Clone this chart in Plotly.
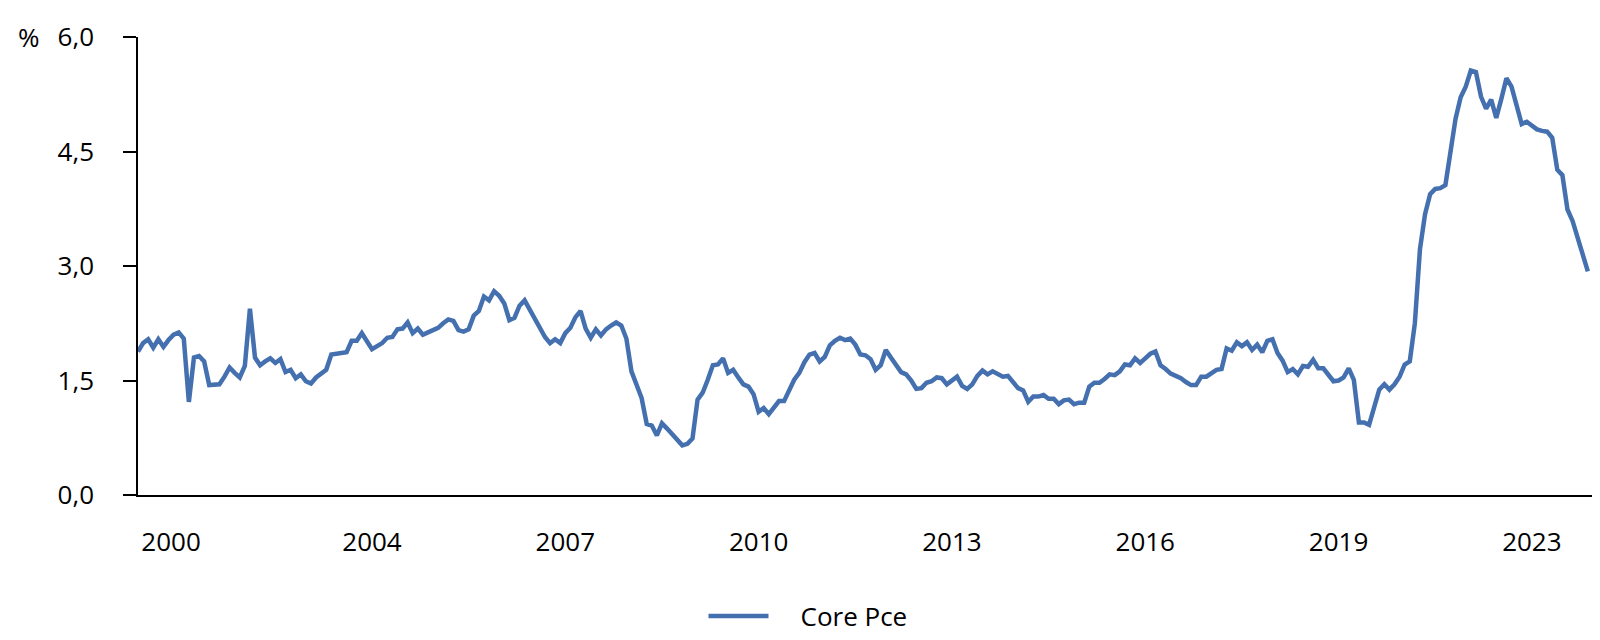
import plotly.graph_objects as go

# Monthly Core PCE (% y/y)
core_pce = [
    1.88, 1.99, 2.04, 1.93, 2.04, 1.94, 2.03, 2.10, 2.13, 2.05,
    1.22, 1.80, 1.82, 1.75, 1.44, 1.44, 1.45, 1.55, 1.67, 1.60,
    1.54, 1.69, 2.44, 1.80, 1.70, 1.75, 1.79, 1.73, 1.78, 1.61,
    1.64, 1.53, 1.58, 1.49, 1.46, 1.54, 1.59, 1.64, 1.84, 1.85,
    1.86, 1.87, 2.02, 2.02, 2.12, 2.00, 1.91, 1.95, 1.99, 2.06,
    2.07, 2.17, 2.18, 2.26, 2.12, 2.18, 2.10, 2.13, 2.16, 2.19,
    2.25, 2.30, 2.28, 2.16, 2.14, 2.17, 2.35, 2.41, 2.60, 2.55,
    2.67, 2.61, 2.51, 2.29, 2.32, 2.48, 2.55, 2.43, 2.31, 2.16,
    2.07, 1.99, 2.04, 1.99, 2.12, 2.19, 2.33, 2.41, 2.18, 2.06,
    2.17, 2.09, 2.17, 2.22, 2.26, 2.22, 2.05, 1.62, 1.43, 1.27,
    0.93, 0.91, 0.78, 0.94, 0.87, 0.80, 0.72, 0.65, 0.67, 0.74,
    1.25, 1.34, 1.51, 1.70, 1.71, 1.79, 1.60, 1.64, 1.54, 1.45,
    1.42, 1.32, 1.09, 1.14, 1.06, 1.15, 1.23, 1.23, 1.38, 1.51,
    1.60, 1.74, 1.84, 1.86, 1.75, 1.81, 1.96, 2.02, 2.06, 2.03,
    2.05, 1.97, 1.84, 1.83, 1.78, 1.64, 1.70, 1.90, 1.80, 1.71,
    1.61, 1.58, 1.50, 1.39, 1.40, 1.47, 1.49, 1.54, 1.53, 1.45,
    1.51, 1.55, 1.43, 1.39, 1.45, 1.56, 1.63, 1.58, 1.62, 1.59,
    1.55, 1.56, 1.47, 1.40, 1.37, 1.22, 1.29, 1.29, 1.31, 1.26,
    1.26, 1.19, 1.24, 1.25, 1.19, 1.21, 1.21, 1.42, 1.47, 1.47,
    1.52, 1.58, 1.57, 1.62, 1.71, 1.70, 1.79, 1.73, 1.79, 1.85,
    1.88, 1.70, 1.65, 1.59, 1.56, 1.53, 1.48, 1.44, 1.44, 1.55,
    1.55, 1.59, 1.64, 1.65, 1.92, 1.89, 2.00, 1.95, 2.00, 1.90,
    1.97, 1.87, 2.02, 2.04, 1.86, 1.76, 1.61, 1.65, 1.58, 1.69,
    1.68, 1.77, 1.66, 1.66, 1.57, 1.49, 1.50, 1.54, 1.66, 1.51,
    0.95, 0.95, 0.92, 1.16, 1.38, 1.45, 1.38, 1.45, 1.55, 1.71,
    1.75, 2.25, 3.22, 3.68, 3.94, 4.01, 4.02, 4.06, 4.50, 4.93,
    5.21, 5.35, 5.56, 5.54, 5.22, 5.06, 5.18, 4.94, 5.19, 5.46,
    5.35, 5.10, 4.86, 4.89, 4.84, 4.79, 4.77, 4.76, 4.68, 4.26,
    4.19, 3.74, 3.59, 3.37, 3.15, 2.93,
]
month_index = list(range(len(core_pce)))

x_tick_pos = [6.5, 46, 84, 122, 160, 198, 236, 274]
x_tick_labels = ["2000", "2004", "2007", "2010", "2013", "2016", "2019", "2023"]

y_tick_vals = [0, 1.5, 3.0, 4.5, 6.0]
y_tick_labels = ["0,0", "1,5", "3,0", "4,5", "6,0"]

series_name = "Core Pce"
line_color = "#4470AF"
font_family = "Open Sans, Noto Sans, sans-serif"
FS = 26

fig = go.Figure()
fig.add_trace(go.Scatter(
    x=month_index, y=core_pce, mode="lines",
    name="\u00a0\u00a0\u00a0\u00a0" + series_name,
    line=dict(color=line_color, width=4.5),
    showlegend=True,
))

fig.update_layout(
    width=1600, height=640,
    margin=dict(l=130, r=10, t=26, b=153),
    paper_bgcolor="white", plot_bgcolor="white",
    font=dict(family=font_family, size=FS, color="#000000"),
    showlegend=True,
    legend=dict(
        orientation="h", xref="container", yref="container",
        x=0.5, xanchor="center", y=0.05, yanchor="middle",
        font=dict(size=FS), itemwidth=60,
    ),
    xaxis=dict(
        range=[0, 287], showgrid=False, zeroline=False,
        showline=True, linecolor="#000000", linewidth=1.5,
        tickmode="array", tickvals=x_tick_pos, ticktext=x_tick_labels,
        ticks="", ticklabelstandoff=23,
    ),
    yaxis=dict(
        range=[0, 6], showgrid=False, zeroline=False,
        showline=True, linecolor="#000000", linewidth=1.5,
        tickmode="array", tickvals=y_tick_vals, ticktext=y_tick_labels,
        ticks="outside", ticklen=13, tickwidth=1.5, tickcolor="#000000",
        ticklabelstandoff=24,
    ),
)

fig.add_annotation(
    text="%", xref="paper", yref="paper",
    x=(8 - 130) / 1460, y=1.0, xanchor="left", yanchor="middle",
    showarrow=False, font=dict(size=FS, color="#000000"),
)

fig.write_html("out.html")
